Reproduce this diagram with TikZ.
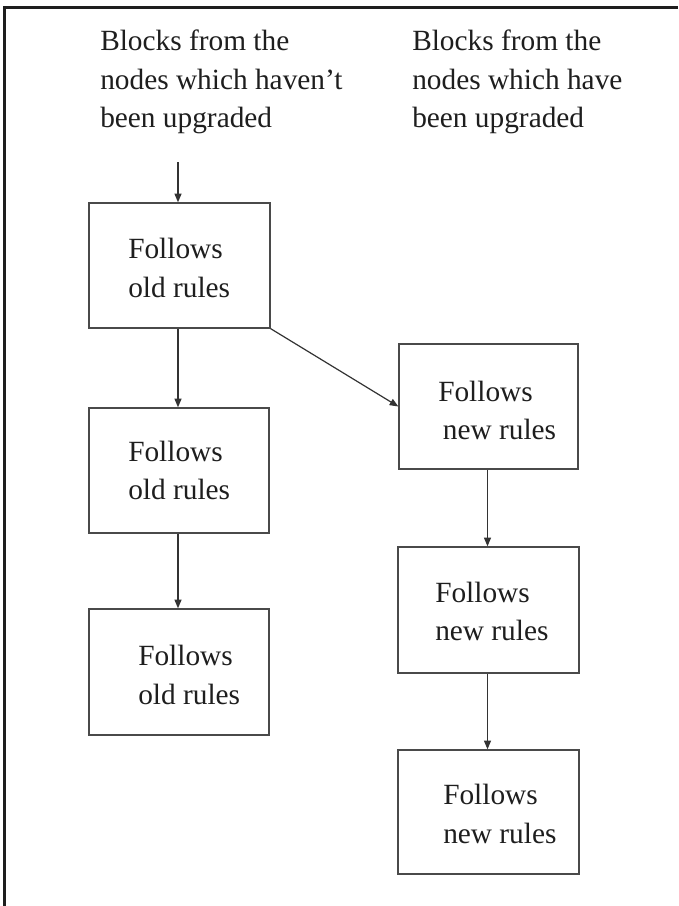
\documentclass[tikz,border=0pt]{standalone}
\usepackage{fontspec}
\setmainfont{Liberation Serif}
\usetikzlibrary{arrows.meta}
\definecolor{inkdark}{HTML}{1E1E1E}
\definecolor{boxline}{HTML}{4A4A4A}
\definecolor{arrline}{HTML}{333333}
\tikzset{
  blk/.style={draw=boxline, line width=1pt, rectangle, inner sep=0pt},
  lbl/.style={align=left, anchor=west, inner sep=0pt, text=inkdark,
    font=\fontsize{22}{28.8}\selectfont},
  hdr/.style={align=left, anchor=west, inner sep=0pt, text=inkdark,
    font=\fontsize{22}{29}\selectfont},
  arr/.style={draw=arrline, line width=0.9pt, -{Triangle[length=6.5pt,width=5.2pt]}},
  frame/.style={draw=inkdark, line width=2.2pt}
}
\begin{document}
\begin{tikzpicture}[x=0.75pt,y=-0.75pt]
\useasboundingbox (0,0) rectangle (678,906);
\fill[white] (0,0) rectangle (678,906);
% page frame (top and left edges)
\draw[frame] (4.5,906) |- (678,7.5);

% column headings
\node[hdr] (hold) at (100,82) {Blocks from the\\nodes which haven’t\\been upgraded};
\node[hdr] (hnew) at (412,82) {Blocks from the\\nodes which have\\been upgraded};

% old-rules chain
\node[blk, minimum width=181*0.75pt, minimum height=125*0.75pt] (o1) at (179.5,265.5) {};
\node[blk, minimum width=180*0.75pt, minimum height=125*0.75pt] (o2) at (179,470.5) {};
\node[blk, minimum width=180*0.75pt, minimum height=126*0.75pt] (o3) at (179,672) {};
\node[lbl] (to1) at (128,268) {Follows\\old rules};
\node[lbl] (to2) at (128,470.5) {Follows\\old rules};
\node[lbl] (to3) at (138,675) {Follows\\old rules};

% new-rules chain
\node[blk, minimum width=179*0.75pt, minimum height=125*0.75pt] (n1) at (488.5,406.5) {};
\node[blk, minimum width=181*0.75pt, minimum height=126*0.75pt] (n2) at (488.5,610) {};
\node[blk, minimum width=181*0.75pt, minimum height=124*0.75pt] (n3) at (488.5,812) {};
\node[lbl] (tn1) at (438,410.5) {Follows\\\hspace*{3.5pt}new rules};
\node[lbl] (tn2) at (435,611.5) {Follows\\new rules};
\node[lbl] (tn3) at (443,814) {Follows\\new rules};

% connectors
\coordinate (start) at (178,162);
\draw[arr] (start) -- (start |- o1.north);
\draw[arr] (o1.south -| start) -- (o2.north -| start);
\draw[arr] (o2.south -| start) -- (o3.north -| start);
\draw[arr] (o1.south east) -- (n1.west);
\coordinate (rcol) at (487.5,0);
\draw[arr] (n1.south -| rcol) -- (n2.north -| rcol);
\draw[arr] (n2.south -| rcol) -- (n3.north -| rcol);
\end{tikzpicture}
\end{document}
